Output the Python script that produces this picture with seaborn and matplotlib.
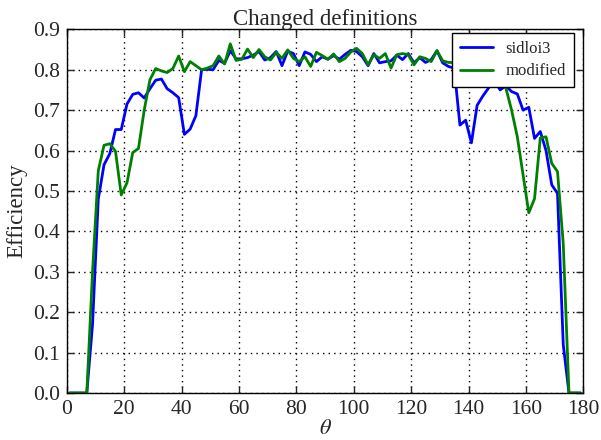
import numpy as np
import pandas as pd
import matplotlib
matplotlib.use("Agg")
import matplotlib.pyplot as plt
import seaborn as sns

theta = list(range(1, 180, 2))

sidloi3 = [
    0, 0, 0, 0, 0.17, 0.48, 0.565, 0.592, 0.652, 0.652,
    0.715, 0.739, 0.743, 0.730, 0.753, 0.774, 0.777, 0.753, 0.743, 0.731,
    0.640, 0.653, 0.686, 0.800, 0.801, 0.800, 0.823, 0.816, 0.847, 0.827,
    0.827, 0.830, 0.836, 0.845, 0.824, 0.830, 0.845, 0.810, 0.846, 0.840,
    0.810, 0.844, 0.838, 0.820, 0.832, 0.826, 0.835, 0.826, 0.838, 0.848,
    0.845, 0.832, 0.810, 0.840, 0.817, 0.820, 0.822, 0.836, 0.825, 0.840,
    0.817, 0.830, 0.818, 0.825, 0.847, 0.817, 0.808, 0.804, 0.663, 0.675,
    0.619, 0.712, 0.735, 0.755, 0.775, 0.750, 0.760, 0.746, 0.740, 0.700,
    0.707, 0.630, 0.647, 0.600, 0.515, 0.494, 0.120, 0, 0, 0,
]

modified = [
    0, 0, 0, 0, 0.30, 0.55, 0.613, 0.617, 0.598, 0.490,
    0.520, 0.595, 0.605, 0.700, 0.775, 0.803, 0.797, 0.793, 0.803, 0.834,
    0.795, 0.820, 0.810, 0.800, 0.804, 0.810, 0.834, 0.814, 0.864, 0.823,
    0.826, 0.851, 0.830, 0.850, 0.832, 0.824, 0.843, 0.828, 0.849, 0.828,
    0.820, 0.832, 0.808, 0.843, 0.835, 0.826, 0.839, 0.820, 0.828, 0.844,
    0.853, 0.840, 0.812, 0.837, 0.828, 0.840, 0.804, 0.837, 0.840, 0.837,
    0.812, 0.832, 0.828, 0.820, 0.847, 0.822, 0.818, 0.818, 0.817, 0.815,
    0.812, 0.805, 0.800, 0.790, 0.780, 0.770, 0.755, 0.700, 0.634, 0.540,
    0.446, 0.481, 0.631, 0.634, 0.568, 0.548, 0.370, 0, 0, 0,
]

series_names = ["sidloi3", "modified"]
series_colors = ["#0000ff", "#008000"]

df = pd.concat([
    pd.DataFrame({"theta": theta, "eff": sidloi3, "series": "sidloi3"}),
    pd.DataFrame({"theta": theta, "eff": modified, "series": "modified"}),
])

sns.set_style("ticks")
plt.rcParams["font.family"] = ["Liberation Serif", "DejaVu Serif"]
plt.rcParams["mathtext.fontset"] = "stix"

fig = plt.figure(figsize=(6.01, 4.40), dpi=100)
ax = fig.add_axes([0.111, 0.1068, 0.8596, 0.8266])

sns.lineplot(data=df, x="theta", y="eff", hue="series",
             hue_order=series_names, palette=series_colors,
             linewidth=2, ax=ax, sort=False, estimator=None)

ax.set_xlim(0, 180)
ax.set_ylim(0, 0.9)
ax.set_xticks(np.arange(0, 181, 20))
ax.set_yticks(np.arange(0, 0.91, 0.1))
ax.set_yticklabels([f"{v:.1f}" for v in np.arange(0, 0.91, 0.1)])
ax.grid(True, linestyle=(0, (1, 3)), color="black", linewidth=1)
ax.tick_params(direction="in", top=True, right=True, labelsize=15.5, length=5, width=1, pad=5)
for s in ax.spines.values():
    s.set_color("black")
    s.set_linewidth(1)

ax.set_title("Changed definitions", fontsize=16.5, pad=3)
ax.set_xlabel(r"$\theta$", fontsize=16, labelpad=1)
ax.set_ylabel("Efficiency", fontsize=16.5, labelpad=4)

leg = ax.legend(loc="upper right", bbox_to_anchor=(0.981, 0.989), borderaxespad=0,
                fontsize=12, fancybox=False, framealpha=1,
                edgecolor="black", handlelength=2.0,
                borderpad=0.45, labelspacing=0.4, handletextpad=0.75)
leg.get_frame().set_linewidth(1)

fig.savefig("out.png", dpi=100)
